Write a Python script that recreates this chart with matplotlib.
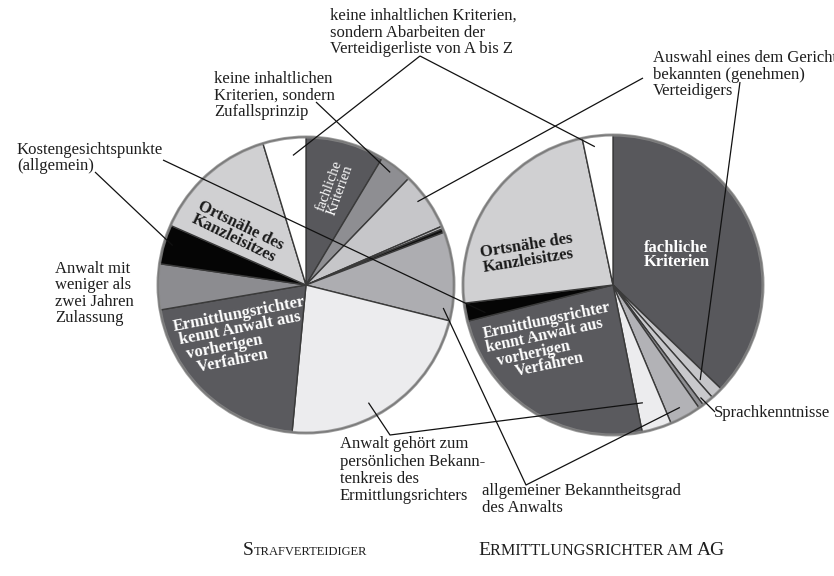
import matplotlib
matplotlib.use("Agg")
import matplotlib.pyplot as plt
import numpy as np
from matplotlib.patches import Circle

plt.rcParams['font.family'] = ['Liberation Serif', 'DejaVu Serif']

W, H = 834, 576

# slices, clockwise from 12 o'clock
left_names = ["fachlich", "zufall", "auswahl", "sprache", "sonstige", "bekanntheit",
              "bekanntenkreis", "vorverfahren", "zulassung", "kosten", "ortsnaehe", "liste"]
left_values = [8.6, 3.6, 6.3, 0.3, 0.4, 9.7, 22.6, 20.8, 5.0, 4.3, 13.7, 4.7]
left_colors = ["#58585c", "#8e8e92", "#c6c6c9", "#b8b8bb", "#111111", "#adadb1",
               "#ececee", "#5a5a5e", "#8c8c90", "#050505", "#d0d0d2", "#ffffff"]

right_names = ["fachlich", "auswahl", "sprache", "zulassung", "bekanntheit", "bekanntenkreis",
               "vorverfahren", "kosten", "ortsnaehe", "liste"]
right_values = [37.2, 1.3, 1.25, 0.55, 3.4, 3.2, 24.25, 1.95, 23.65, 3.3]
right_colors = ["#58585c", "#c6c6c9", "#c9c9cc", "#8e8e92", "#b2b2b6", "#ececee",
                "#5a5a5e", "#050505", "#d0d0d2", "#ffffff"]

titles = [[("S", 14), ("TRAFVERTEIDIGER", 9)],
          [("E", 14), ("RMITTLUNGSRICHTER AM ", 11.6), ("AG", 14)]]


def P(x, y):
    return x, H - y


fig = plt.figure(figsize=(W / 100, H / 100), dpi=100)
ax = fig.add_axes([0, 0, 1, 1])

wl, _ = ax.pie(left_values, colors=left_colors, startangle=90, counterclock=False,
               center=P(306, 285), radius=148, frame=True,
               wedgeprops=dict(edgecolor="#3a3a3a", linewidth=1.0))
wr, _ = ax.pie(right_values, colors=right_colors, startangle=90, counterclock=False,
               center=P(613, 285), radius=150, frame=True,
               wedgeprops=dict(edgecolor="#3a3a3a", linewidth=1.0))
ax.set_xlim(0, W)
ax.set_ylim(0, H)
ax.set_aspect('auto')
ax.axis('off')
for c, r in [(P(306, 285), 148), (P(613, 285), 150)]:
    ax.add_patch(Circle(c, r, fill=False, edgecolor="#8a8a8a", linewidth=2.2, alpha=0.8))


def anchor(wedges, names, key, fa, fr):
    w = wedges[names.index(key)]
    a = np.deg2rad(w.theta2 - fa * (w.theta2 - w.theta1))
    cx, cy = w.center
    return cx + fr * w.r * np.cos(a), cy + fr * w.r * np.sin(a)


def leader(*pts):
    ax.plot([p[0] for p in pts], [p[1] for p in pts], color="#111111", lw=0.9,
            solid_capstyle='butt')


# outer labels: y is the baseline of the last line
txt = dict(fontsize=12, color="#1e1e1e", ha='left', va='baseline', linespacing=1.04)
ax.text(*P(330, 53), "keine inhaltlichen Kriterien,\nsondern Abarbeiten der\nVerteidigerliste von A bis Z", **txt)
ax.text(*P(214, 116), "keine inhaltlichen\nKriterien, sondern\nZufallsprinzip", **txt)
ax.text(*P(17, 170), "Kostengesichtspunkte\n(allgemein)", **txt)
ax.text(*P(55, 322), "Anwalt mit\nweniger als\nzwei Jahren\nZulassung", **txt)
ax.text(*P(653, 95), "Auswahl eines dem Gericht\nbekannten (genehmen)\nVerteidigers", **txt)
ax.text(*P(714, 417), "Sprachkenntnisse", **txt)
txt2 = dict(txt, linespacing=1.1)
ax.text(*P(340, 500), "Anwalt gehört zum\npersönlichen Bekann-\ntenkreis des\nErmittlungsrichters", **txt2)
ax.text(*P(482, 512), "allgemeiner Bekanntheitsgrad\ndes Anwalts", **txt2)

# leader lines
leader(P(420, 56), anchor(wl, left_names, "liste", 0.66, 0.88))
leader(P(420, 56), anchor(wr, right_names, "liste", 0.37, 0.93))
leader(P(316, 102), anchor(wl, left_names, "zufall", 0.45, 0.95))
leader(P(95, 172), anchor(wl, left_names, "kosten", 0.53, 0.94))
leader(P(163, 160), anchor(wr, right_names, "kosten", 0.25, 0.87))
leader(P(643, 78), anchor(wl, left_names, "auswahl", 0.41, 0.94))
leader(P(740, 82), anchor(wr, right_names, "auswahl", 0.78, 0.86))
leader(P(715, 412), anchor(wr, right_names, "sprache", 0.8, 0.95))
leader(anchor(wl, left_names, "bekanntenkreis", 0.59, 0.9), P(390, 435),
       anchor(wr, right_names, "bekanntenkreis", 0.74, 0.81))
leader(anchor(wl, left_names, "bekanntheit", 0.87, 0.94), P(526, 485),
       anchor(wr, right_names, "bekanntheit", 0.52, 0.93))

# labels inside the pies
bw = dict(fontweight='bold', fontsize=12, ha='center', va='center', linespacing=0.9,
          multialignment='left', rotation_mode='anchor')
ax.text(*P(335, 188), "fachliche\nKriterien", color="white", fontsize=10.5, ha='center',
        va='center', linespacing=0.9, rotation=70, rotation_mode='anchor')
ax.text(*P(237, 232), "Ortsnähe des\nKanzleisitzes", color="#1a1a1a", rotation=-26,
        **dict(bw, multialignment='center'))
ax.text(*P(243, 336), "Ermittlungsrichter\n kennt Anwalt aus\n  vorherigen\n    Verfahren",
        color="white", rotation=11, **bw)
ax.text(*P(528, 253), "Ortsnähe des\nKanzleisitzes", color="#1a1a1a", rotation=9, **bw)
ax.text(*P(677, 255), "fachliche\nKriterien", color="white", rotation=0, **bw)
ax.text(*P(551, 342), "Ermittlungsrichter\nkennt Anwalt aus\n  vorherigen\n      Verfahren",
        color="white", rotation=12, **dict(bw, fontsize=11.5))

# small-caps titles
fig.canvas.draw()
renderer = fig.canvas.get_renderer()
for (x0, parts) in zip([243, 478], titles):
    x = x0
    for s, size in parts:
        t = ax.text(x, H - 555, s, fontsize=size, color="#1e1e1e", ha='left', va='baseline')
        x = t.get_window_extent(renderer).x1

fig.savefig("out.png", dpi=100)
